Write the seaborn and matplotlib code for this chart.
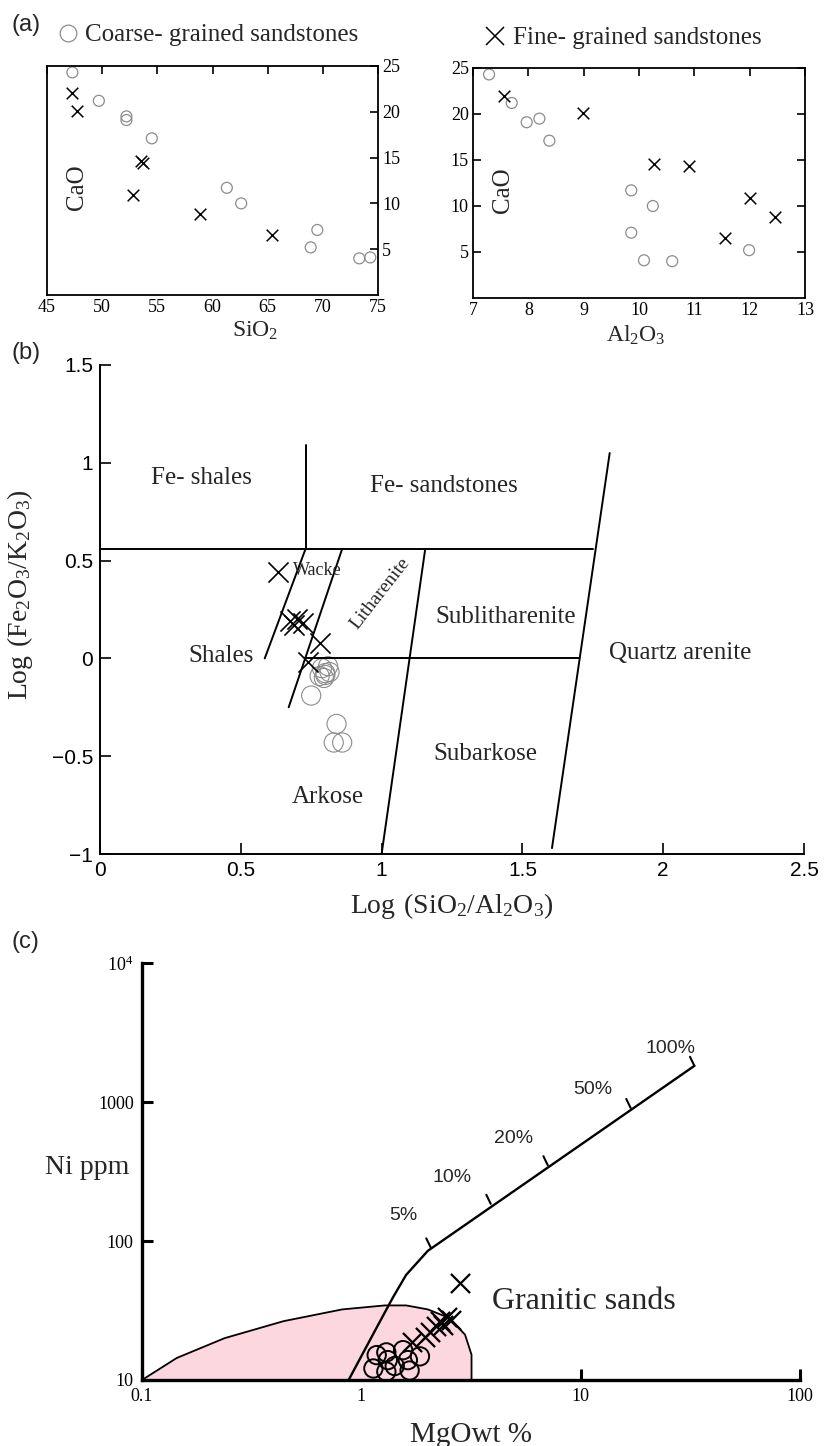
import numpy as np
import pandas as pd
import matplotlib
matplotlib.use('Agg')
import matplotlib.pyplot as plt
from matplotlib.lines import Line2D
from matplotlib.ticker import NullLocator
import seaborn as sns

sns.set_theme(style='white')
plt.rcParams['font.family'] = ['Liberation Serif', 'DejaVu Serif']
plt.rcParams['mathtext.fontset'] = 'custom'
plt.rcParams['mathtext.rm'] = 'Liberation Serif'
SANS = ['Liberation Sans', 'DejaVu Sans']

# ---- (a) CaO vs SiO2 and Al2O3 (same samples in both panels) ----
coarse_sio2 = [47.3, 49.7, 52.2, 52.2, 54.5, 61.3, 62.6, 69.5, 68.9, 74.3, 73.3]
coarse_al2o3 = [7.29, 7.70, 8.20, 7.97, 8.38, 9.86, 10.25, 9.86, 11.99, 10.09, 10.60]
coarse_cao = [24.3, 21.2, 19.5, 19.1, 17.1, 11.7, 10.0, 7.1, 5.2, 4.1, 4.0]
fine_sio2 = [47.3, 47.75, 53.5, 53.7, 52.8, 58.9, 65.4]
fine_al2o3 = [7.56, 8.98, 10.27, 10.91, 12.0, 12.46, 11.56]
fine_cao = [22.0, 20.1, 14.6, 14.4, 10.9, 8.8, 6.5]

# ---- (b) Herron (1988) classification ----
coarse_b_x = [0.788, 0.80, 0.78, 0.81, 0.795, 0.815, 0.80, 0.75, 0.84, 0.83, 0.86]
coarse_b_y = [-0.05, -0.075, -0.09, -0.04, -0.10, -0.07, -0.085, -0.19, -0.335, -0.43, -0.43]
fine_b_x = [0.631, 0.675, 0.69, 0.70, 0.72, 0.782, 0.74]
fine_b_y = [0.44, 0.19, 0.17, 0.20, 0.18, 0.08, -0.02]

herron_lines = [
    ([0.0, 1.752], [0.56, 0.56]),
    ([0.73, 0.73], [0.56, 1.09]),
    ([0.73, 0.585], [0.56, 0.0]),
    ([0.86, 0.67], [0.56, -0.25]),
    ([1.155, 1.0], [0.56, -1.0]),
    ([0.729, 1.70], [0.0, 0.0]),
    ([1.605, 1.81], [-0.97, 1.05]),
]
herron_fields = ['Fe- shales', 'Fe- sandstones', 'Shales', 'Sublitharenite',
                 'Quartz arenite', 'Subarkose', 'Arkose']
herron_field_x = [0.36, 1.22, 0.43, 1.44, 2.06, 1.37, 0.81]
herron_field_y = [0.92, 0.88, 0.01, 0.21, 0.03, -0.49, -0.71]

# ---- (c) Ni vs MgO ----
granite_mgo = [0.1, 0.144, 0.238, 0.442, 0.818, 1.28, 1.60, 2.01, 2.51, 2.97, 3.18, 3.18]
granite_ni = [10, 14.4, 20.0, 26.5, 32.2, 34.4, 34.4, 32.2, 28.0, 21.2, 15.2, 10]
mix_mgo = [0.875, 1.15, 1.39, 1.60, 2.01, 33.0]
mix_ni = [10, 22.4, 39, 57, 85, 1820]
mix_pct = ['5%', '10%', '20%', '50%', '100%']
mix_tick_mgo = [2.07, 3.89, 7.08, 16.9, 33.0]
mix_tick_ni = [90, 185, 351, 906, 1820]
mix_lab_mgo = [1.56, 2.58, 4.92, 11.4, 25.7]
mix_lab_ni = [152, 286, 548, 1230, 2420]
coarse_c_mgo = [1.175, 1.30, 1.32, 1.135, 1.30, 1.55, 1.63, 1.66, 1.85, 1.42]
coarse_c_ni = [15.1, 15.8, 13.9, 12.1, 11.5, 16.4, 13.9, 11.7, 14.8, 12.6]
fine_c_mgo = [2.81, 2.55, 2.45, 2.35, 2.28, 2.20, 2.05, 1.95, 1.70]
fine_c_ni = [50, 27, 28.5, 25, 26.5, 24.5, 22.2, 20.4, 18.9]

W, H = 828, 1446
fig = plt.figure(figsize=(W / 100, H / 100), dpi=100)


def box(x0, x1, y0, y1):
    return [x0 / W, 1 - y1 / H, (x1 - x0) / W, (y1 - y0) / H]


GREY = '#8c8c8c'


def hollow(ax, color, lw):
    c = ax.collections[-1]
    c.set_facecolor('none')
    c.set_edgecolor(color)
    c.set_linewidth(lw)


# ---- (a) ----
ax1 = fig.add_axes(box(47, 378, 66, 295))
ax2 = fig.add_axes(box(473, 805, 68, 298))
for ax, cx, fx, xlim, xt in [(ax1, coarse_sio2, fine_sio2, (45, 75), range(45, 80, 5)),
                             (ax2, coarse_al2o3, fine_al2o3, (7, 13), range(7, 14))]:
    sns.scatterplot(x=cx, y=coarse_cao, ax=ax, marker='o', s=62, legend=False)
    hollow(ax, GREY, 0.9)
    sns.scatterplot(x=fx, y=fine_cao, ax=ax, marker='x', s=70, color='black',
                    linewidth=1.1, legend=False)
    ax.set_xlim(*xlim)
    ax.set_ylim(0, 25)
    ax.set_xticks(list(xt))
    ax.set_yticks([5, 10, 15, 20, 25])
    for s in ax.spines.values():
        s.set_visible(True)
        s.set_color('black')
        s.set_linewidth(1.3)
    ax.tick_params(direction='in', length=6, width=1.2, labelsize=13, pad=3,
                   colors='black', top=True, bottom=True)
    for t in ax.xaxis.get_major_ticks():
        t.tick1line.set_visible(False)
    ax.text(0.09, 0.47, 'CaO', rotation=90, fontsize=18, transform=ax.transAxes,
            ha='center', va='center')

ax1.tick_params(axis='y', left=False, right=True, labelleft=False, labelright=True)
ax2.tick_params(axis='y', left=True, right=True, labelleft=True, labelright=False)
ax1.set_xlabel(r'$\mathrm{SiO_2}$', fontsize=17)
ax1.xaxis.set_label_coords(0.63, -0.11)
ax2.set_xlabel(r'$\mathrm{Al_2O_3}$', fontsize=17)
ax2.xaxis.set_label_coords(0.49, -0.11)

h_coarse = Line2D([], [], marker='o', ls='none', mfc='none', mec=GREY, ms=12, mew=0.9)
h_fine = Line2D([], [], marker='x', ls='none', color='black', ms=13, mew=1.1)
ax1.legend([h_coarse], ['Coarse- grained sandstones'], loc='center left',
           bbox_to_anchor=(55 / W, 1 - 35 / H), bbox_transform=fig.transFigure,
           frameon=False, fontsize=18, handlelength=1, handletextpad=0.2,
           borderpad=0, borderaxespad=0)
ax2.legend([h_fine], ['Fine- grained sandstones'], loc='center left',
           bbox_to_anchor=(483 / W, 1 - 38 / H), bbox_transform=fig.transFigure,
           frameon=False, fontsize=18, handlelength=1, handletextpad=0.2,
           borderpad=0, borderaxespad=0)

# ---- (b) ----
ax3 = fig.add_axes(box(100, 804, 365, 854))
for xs, ys in herron_lines:
    ax3.plot(xs, ys, color='black', lw=1.4)
sns.scatterplot(x=coarse_b_x, y=coarse_b_y, ax=ax3, marker='o', s=190, legend=False)
hollow(ax3, GREY, 0.8)
sns.scatterplot(x=fine_b_x, y=fine_b_y, ax=ax3, marker='x', s=210, color='black',
                linewidth=1.2, legend=False)
for name, x, y in zip(herron_fields, herron_field_x, herron_field_y):
    ax3.text(x, y, name, fontsize=18, ha='center', va='center')
ax3.text(0.685, 0.45, 'Wacke', fontsize=13, ha='left', va='center')
ax3.text(0.995, 0.33, 'Litharenite', fontsize=14, ha='center', va='center', rotation=52)
ax3.set_xlim(0, 2.5)
ax3.set_ylim(-1, 1.5)
bt = [-1, -0.5, 0, 0.5, 1, 1.5]
ax3.set_yticks(bt, ['\u22121', '\u22120.5', '0', '0.5', '1', '1.5'])
xt = [0, 0.5, 1, 1.5, 2, 2.5]
ax3.set_xticks(xt, ['0', '0.5', '1', '1.5', '2', '2.5'])
for lab in ax3.get_xticklabels() + ax3.get_yticklabels():
    lab.set_family(SANS)
ax3.tick_params(direction='in', length=8, width=1.2, labelsize=15, pad=5,
                colors='black', left=True, bottom=True)
for k in ['top', 'right']:
    ax3.spines[k].set_visible(False)
for k in ['left', 'bottom']:
    ax3.spines[k].set_color('black')
    ax3.spines[k].set_linewidth(1.4)
ax3.set_xlabel(r'$\mathrm{Log\ (SiO_2/Al_2O_3)}$', fontsize=20, labelpad=8)
ax3.set_ylabel(r'$\mathrm{Log\ (Fe_2O_3/K_2O_3)}$', fontsize=20)
ax3.yaxis.set_label_coords(-0.092, 0.53)

# ---- (c) ----
ax4 = fig.add_axes(box(142, 800, 963, 1380))
ax4.set_xscale('log')
ax4.set_yscale('log')
ax4.fill(granite_mgo, granite_ni, facecolor='#fdd7e0', edgecolor='black', lw=1.3)
ax4.plot(mix_mgo, mix_ni, color='black', lw=1.7)
for x, y in zip(mix_tick_mgo, mix_tick_ni):
    ax4.plot([x, x * 10 ** -0.02], [y, y * 10 ** 0.065], color='black', lw=1.5)
for t, x, y in zip(mix_pct, mix_lab_mgo, mix_lab_ni):
    ax4.text(x, y, t, fontsize=14, ha='center', va='center', family=SANS)
sns.scatterplot(x=coarse_c_mgo, y=coarse_c_ni, ax=ax4, marker='o', s=175, legend=False)
hollow(ax4, 'black', 1.4)
sns.scatterplot(x=fine_c_mgo, y=fine_c_ni, ax=ax4, marker='x', s=190, color='black',
                linewidth=1.6, legend=False)
ax4.text(3.95, 36.5, 'Granitic sands', fontsize=23, ha='left', va='center')
ax4.set_xlim(0.1, 100)
ax4.set_ylim(10, 1e4)
ax4.xaxis.set_minor_locator(NullLocator())
ax4.yaxis.set_minor_locator(NullLocator())
ax4.set_xticks([0.1, 1, 10, 100], ['0.1', '1', '10', '100'])
ax4.set_yticks([10, 100, 1000, 1e4], ['10', '100', '1000', r'$\mathrm{10^4}$'])
ax4.tick_params(direction='in', length=8, width=2.2, labelsize=13, pad=6,
                colors='black', left=True, bottom=True)
for k in ['top', 'right']:
    ax4.spines[k].set_visible(False)
for k in ['left', 'bottom']:
    ax4.spines[k].set_color('black')
    ax4.spines[k].set_linewidth(2.4)
ax4.set_xlabel('MgOwt %', fontsize=21, labelpad=12)
ax4.text(-0.084, 0.51, 'Ni ppm', fontsize=20, transform=ax4.transAxes,
         ha='center', va='center')

# panel letters
for lab, y in [('(a)', 25), ('(b)', 353), ('(c)', 942)]:
    fig.text(12 / W, 1 - y / H, lab, fontsize=17, family=SANS, ha='left', va='center')

fig.savefig('out.png', dpi=100)
